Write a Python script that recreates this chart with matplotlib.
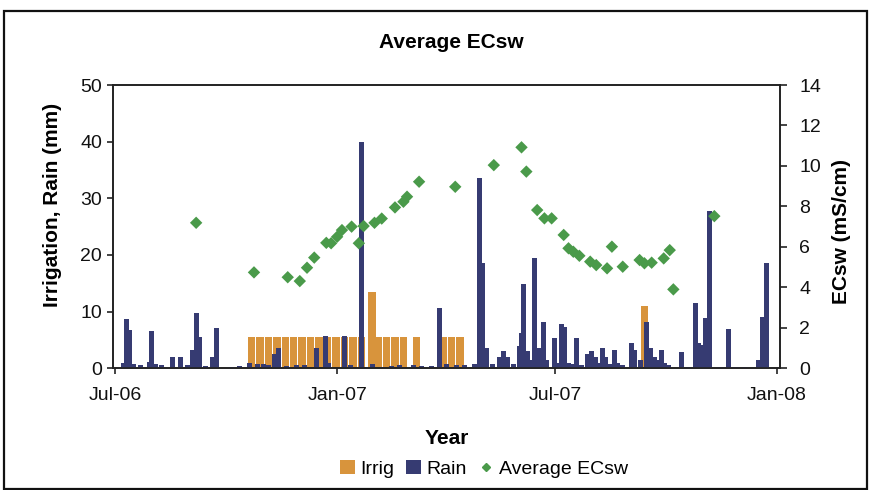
import matplotlib
matplotlib.use('Agg')
import matplotlib.pyplot as plt
import matplotlib.dates as mdates
from matplotlib import font_manager
from matplotlib.patches import Rectangle, Patch
from matplotlib.lines import Line2D
import datetime as dt

names = {f.name for f in font_manager.fontManager.ttflist}
FONT = 'Liberation Sans' if 'Liberation Sans' in names else 'DejaVu Sans'
plt.rcParams['font.family'] = [FONT, 'DejaVu Sans']

# ---------------- data ----------------
irrig_dates = ['2006-10-22', '2006-10-29', '2006-11-05', '2006-11-12', '2006-11-19',
               '2006-11-26', '2006-12-03', '2006-12-10', '2006-12-17', '2006-12-24',
               '2006-12-31', '2007-01-07', '2007-01-14', '2007-01-21', '2007-01-30',
               '2007-02-04', '2007-02-11', '2007-02-18', '2007-02-25', '2007-03-08',
               '2007-03-30', '2007-04-06', '2007-04-13', '2007-09-13']
irrig_mm = [5.6, 5.6, 5.6, 5.6, 5.6, 5.6, 5.6, 5.6, 5.6, 5.6,
            5.6, 5.6, 5.6, 5.6, 13.5, 5.6, 5.6, 5.6, 5.6, 5.6,
            5.6, 5.6, 5.6, 11.0]

rain_dates = ['2006-07-08', '2006-07-10', '2006-07-13', '2006-07-16', '2006-07-22',
              '2006-07-29', '2006-07-31', '2006-08-03', '2006-08-08', '2006-08-17',
              '2006-08-24', '2006-08-30', '2006-09-03', '2006-09-06', '2006-09-09',
              '2006-09-14', '2006-09-20', '2006-09-23', '2006-10-05', '2006-10-12',
              '2006-10-20', '2006-10-27', '2006-11-01', '2006-11-05', '2006-11-10',
              '2006-11-13', '2006-11-20', '2006-11-28', '2006-12-05', '2006-12-15',
              '2006-12-22', '2006-12-25', '2007-01-07', '2007-01-12', '2007-01-21',
              '2007-01-30', '2007-02-08', '2007-02-15', '2007-02-22', '2007-03-05',
              '2007-03-12', '2007-03-20', '2007-03-27', '2007-04-02', '2007-04-10',
              '2007-04-17', '2007-04-25', '2007-04-29', '2007-05-02', '2007-05-05',
              '2007-05-10', '2007-05-16', '2007-05-19', '2007-05-22', '2007-05-27',
              '2007-06-01', '2007-06-03', '2007-06-05', '2007-06-08', '2007-06-11',
              '2007-06-14', '2007-06-17', '2007-06-21', '2007-06-24', '2007-06-30',
              '2007-07-03', '2007-07-06', '2007-07-09', '2007-07-12', '2007-07-15',
              '2007-07-19', '2007-07-23', '2007-07-28', '2007-07-31', '2007-08-03',
              '2007-08-06', '2007-08-09', '2007-08-12', '2007-08-15', '2007-08-19',
              '2007-08-22', '2007-08-26', '2007-09-02', '2007-09-05', '2007-09-10',
              '2007-09-15', '2007-09-18', '2007-09-21', '2007-09-24', '2007-09-27',
              '2007-09-30', '2007-10-03', '2007-10-14', '2007-10-20', '2007-10-25',
              '2007-10-28', '2007-10-31', '2007-11-03', '2007-11-06', '2007-11-14',
              '2007-11-22', '2007-11-28', '2007-12-05', '2007-12-17', '2007-12-20',
              '2007-12-23']
rain_mm = [1.0, 8.7, 6.8, 0.8, 0.5,
           1.2, 6.6, 0.8, 0.5, 2.0,
           2.0, 0.6, 3.2, 9.8, 5.5,
           0.4, 2.0, 7.1, 0.3, 0.4,
           1.0, 0.8, 0.8, 0.5, 2.5,
           3.6, 0.4, 0.6, 0.5, 3.6,
           5.7, 1.0, 5.7, 0.6, 40.0,
           0.8, 0.3, 0.4, 0.5, 0.5,
           0.4, 0.4, 10.6, 0.8, 0.5,
           0.5, 0.8, 33.6, 18.5, 3.6,
           0.8, 2.0, 3.0, 2.0, 0.8,
           4.0, 6.2, 14.9, 3.0, 1.5,
           19.5, 3.5, 8.2, 1.5, 5.3,
           1.0, 7.9, 7.3, 1.0, 0.8,
           5.3, 0.6, 2.5, 3.0, 2.0,
           1.0, 3.6, 2.0, 0.8, 3.2,
           1.0, 0.5, 4.4, 3.3, 1.5,
           8.2, 3.6, 2.0, 1.5, 3.3,
           1.0, 0.5, 2.8, 0.3, 11.5,
           4.4, 4.1, 8.9, 27.8, 0.3,
           6.9, 0.3, 0.3, 1.5, 9.0,
           18.5]

ec_dates = ['2006-09-06', '2006-10-24', '2006-11-21', '2006-12-01', '2006-12-07',
            '2006-12-13', '2006-12-23', '2006-12-27', '2007-01-01', '2007-01-05',
            '2007-01-13', '2007-01-19', '2007-01-23', '2007-02-01', '2007-02-07',
            '2007-02-18', '2007-02-25', '2007-02-28', '2007-03-10', '2007-04-09',
            '2007-05-11', '2007-06-03', '2007-06-07', '2007-06-16', '2007-06-22',
            '2007-06-28', '2007-07-08', '2007-07-12', '2007-07-16', '2007-07-21',
            '2007-07-30', '2007-08-04', '2007-08-13', '2007-08-17', '2007-08-26',
            '2007-09-09', '2007-09-13', '2007-09-19', '2007-09-29', '2007-10-04',
            '2007-10-07', '2007-11-10']
ec_values = [7.19, 4.74, 4.50, 4.31, 4.97,
             5.47, 6.20, 6.18, 6.50, 6.83,
             7.00, 6.18, 7.03, 7.19, 7.40,
             7.95, 8.23, 8.48, 9.22, 8.97,
             10.04, 10.92, 9.72, 7.82, 7.41,
             7.41, 6.59, 5.93, 5.76, 5.56,
             5.27, 5.10, 4.94, 6.01, 5.02,
             5.35, 5.19, 5.22, 5.43, 5.84,
             3.90, 7.52]

x_ticks = ['2006-07-01', '2007-01-01', '2007-07-01', '2008-01-01']
x_tick_labels = ['Jul-06', 'Jan-07', 'Jul-07', 'Jan-08']

# ---------------- styling ----------------
C_IRRIG = '#D8943C'
C_RAIN = '#363B72'
C_EC = '#4A9A4A'


def dn(s):
    return mdates.date2num(dt.datetime.strptime(s, '%Y-%m-%d'))


fig = plt.figure(figsize=(8.72, 4.90), dpi=100)
W, H = 872.0, 490.0
ax1 = fig.add_axes([113 / W, 1 - 368.3 / H, (780 - 113) / W, (368.3 - 85) / H])
ax2 = ax1.twinx()

ax1.bar([dn(d) for d in irrig_dates], irrig_mm, width=6.2, color=C_IRRIG,
        edgecolor='none', zorder=2)
ax1.bar([dn(d) for d in rain_dates], rain_mm, width=4.2, color=C_RAIN,
        edgecolor='none', zorder=3)
ax2.scatter([dn(d) for d in ec_dates], ec_values, marker='D', s=40,
            color=C_EC, edgecolors='none', zorder=4)

ax1.set_xlim(dn('2006-06-29'), dn('2008-01-03') + 0.5)
ax1.set_ylim(0, 50)
ax2.set_ylim(0, 14)
ax1.set_yticks(range(0, 51, 10))
ax2.set_yticks(range(0, 15, 2))
ax1.set_xticks([dn(d) for d in x_ticks])
ax1.set_xticklabels(x_tick_labels)

for ax in (ax1, ax2):
    for sp in ax.spines.values():
        sp.set_linewidth(1.2)
        sp.set_color('#222222')

ax1.tick_params(axis='y', direction='out', length=4.5, width=1.1, pad=3.5,
                labelsize=14, colors='#111111')
ax1.tick_params(axis='x', direction='out', length=4.5, width=1.1, pad=9,
                labelsize=14, colors='#111111')
ax2.tick_params(axis='y', direction='out', length=5, width=1.1, pad=9,
                labelsize=14, colors='#111111')

fig.text(451 / W, 1 - 42 / H, 'Average ECsw', ha='center', va='center',
         fontsize=15, fontweight='bold')
fig.text(52 / W, 1 - 205 / H, 'Irrigation, Rain (mm)', ha='center', va='center',
         rotation=90, fontsize=15, fontweight='bold')
fig.text(841 / W, 1 - 231 / H, 'ECsw (mS/cm)', ha='center', va='center',
         rotation=90, fontsize=15, fontweight='bold')
fig.text(447 / W, 1 - 438 / H, 'Year', ha='center', va='center',
         fontsize=15, fontweight='bold')

handles = [Patch(facecolor=C_IRRIG, edgecolor='none'),
           Patch(facecolor=C_RAIN, edgecolor='none'),
           Line2D([], [], marker='D', color=C_EC, linestyle='none', markersize=4.5)]
fig.legend(handles, ['Irrig', 'Rain', 'Average ECsw'], loc='center',
           bbox_to_anchor=(484 / W, 1 - 469 / H), ncol=3, frameon=False,
           fontsize=14, handlelength=0.75, handleheight=0.75, handletextpad=0.3,
           columnspacing=0.6, borderpad=0)

fig.patches.append(Rectangle((4 / W, 1 / H), (867 - 4) / W, (H - 11 - 1) / H,
                             transform=fig.transFigure, fill=False,
                             edgecolor='#111111', linewidth=1.6))

fig.savefig('out.png', dpi=100)
